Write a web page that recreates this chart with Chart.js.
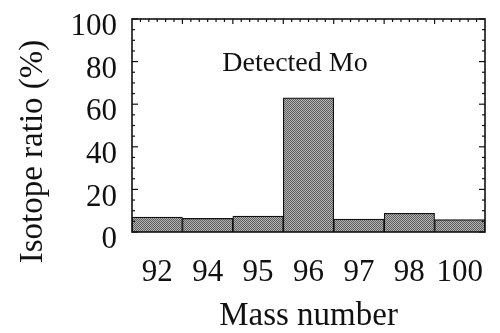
<!DOCTYPE html>
<html><head><meta charset="utf-8">
<script src="https://cdn.jsdelivr.net/npm/chart.js@4/dist/chart.umd.min.js"></script>
<style>html,body{margin:0;padding:0;background:#fff;overflow:hidden}#wrap{width:500px;height:333px}</style>
</head><body><div id="wrap"><canvas id="c" width="500" height="333"></canvas></div>
<script>
const massNumbers = ['92', '94', '95', '96', '97', '98', '100'];
const isotopeRatio = [7.0, 6.4, 7.5, 63.0, 6.1, 8.8, 5.8];
const yTickValues = [0, 20, 40, 60, 80, 100];
const xTitle = 'Mass number';
const yTitle = 'Isotope ratio (%)';
const annotationText = 'Detected Mo';

const SERIF = '"Liberation Serif", "DejaVu Serif", serif';
const INK = '#111111';

function makePattern() {
  const c = document.createElement('canvas');
  c.width = 2; c.height = 2;
  const g = c.getContext('2d');
  g.fillStyle = '#b6b6b6'; g.fillRect(0, 0, 2, 2);
  g.fillStyle = '#5c5c5c'; g.fillRect(0, 0, 1, 1); g.fillRect(1, 1, 1, 1);
  return g.createPattern(c, 'repeat');
}

const frameTicks = {
  id: 'frameTicks',
  afterDatasetsDraw(chart) {
    const { ctx, chartArea: a, scales: { x, y } } = chart;
    ctx.save();
    ctx.strokeStyle = INK;
    ctx.lineWidth = 1.2;
    const line = (x1, y1, x2, y2) => { ctx.beginPath(); ctx.moveTo(x1, y1); ctx.lineTo(x2, y2); ctx.stroke(); };
    for (let v = 0; v <= 100; v += 5) {
      const py = y.getPixelForValue(v);
      const len = v % 20 === 0 ? 6 : 3;
      line(a.left, py, a.left + len, py);
      line(a.right, py, a.right - len, py);
    }
    const n = massNumbers.length;
    for (let i = 1; i < n * 6; i++) {
      const px = x.getPixelForValue(-0.5 + i / 6);
      const len = i % 6 === 0 ? 5 : 3;
      line(px, a.top, px, a.top + len);
    }
    ctx.lineWidth = 1.6;
    ctx.strokeRect(a.left, a.top, a.right - a.left, a.bottom - a.top);
    ctx.restore();
  },
  afterDraw(chart) {
    const { ctx } = chart;
    ctx.save();
    ctx.fillStyle = INK;
    ctx.font = '28px ' + SERIF;
    ctx.textAlign = 'center';
    ctx.textBaseline = 'alphabetic';
    ctx.fillText(annotationText, 295, 71);
    ctx.translate(42, 151.5);
    ctx.rotate(-Math.PI / 2);
    ctx.font = '33px ' + SERIF;
    ctx.fillText(yTitle, 0, 0);
    ctx.restore();
  }
};

new Chart(document.getElementById('c'), {
  type: 'bar',
  data: {
    labels: massNumbers,
    datasets: [{
      data: isotopeRatio,
      backgroundColor: makePattern(),
      borderColor: INK,
      borderWidth: 1.2,
      barPercentage: 1,
      categoryPercentage: 1
    }]
  },
  options: {
    responsive: false,
    devicePixelRatio: 1,
    animation: false,
    layout: { padding: { left: 14, top: 19, right: 15, bottom: 0 } },
    plugins: { legend: { display: false }, tooltip: { enabled: false } },
    scales: {
      x: {
        grid: { display: false, drawTicks: false },
        border: { display: false },
        ticks: { color: INK, font: { family: SERIF, size: 31 }, padding: 22, maxRotation: 0, autoSkip: false },
        title: { display: true, text: xTitle, color: INK, font: { family: SERIF, size: 33, lineHeight: 1 }, padding: 0 },
        afterFit(s) { s.height = 101; s.paddingLeft = 0; s.paddingRight = 0; }
      },
      y: {
        min: 0, max: 100,
        afterBuildTicks(s) { s.ticks = yTickValues.map(v => ({ value: v })); },
        grid: { display: false, drawTicks: false },
        border: { display: false },
        ticks: { color: INK, font: { family: SERIF, size: 31 }, padding: 15, labelOffset: 8, autoSkip: false },
        afterFit(s) { s.width = 118; s.paddingTop = 0; s.paddingBottom = 0; }
      }
    }
  },
  plugins: [frameTicks]
});
</script></body></html>
